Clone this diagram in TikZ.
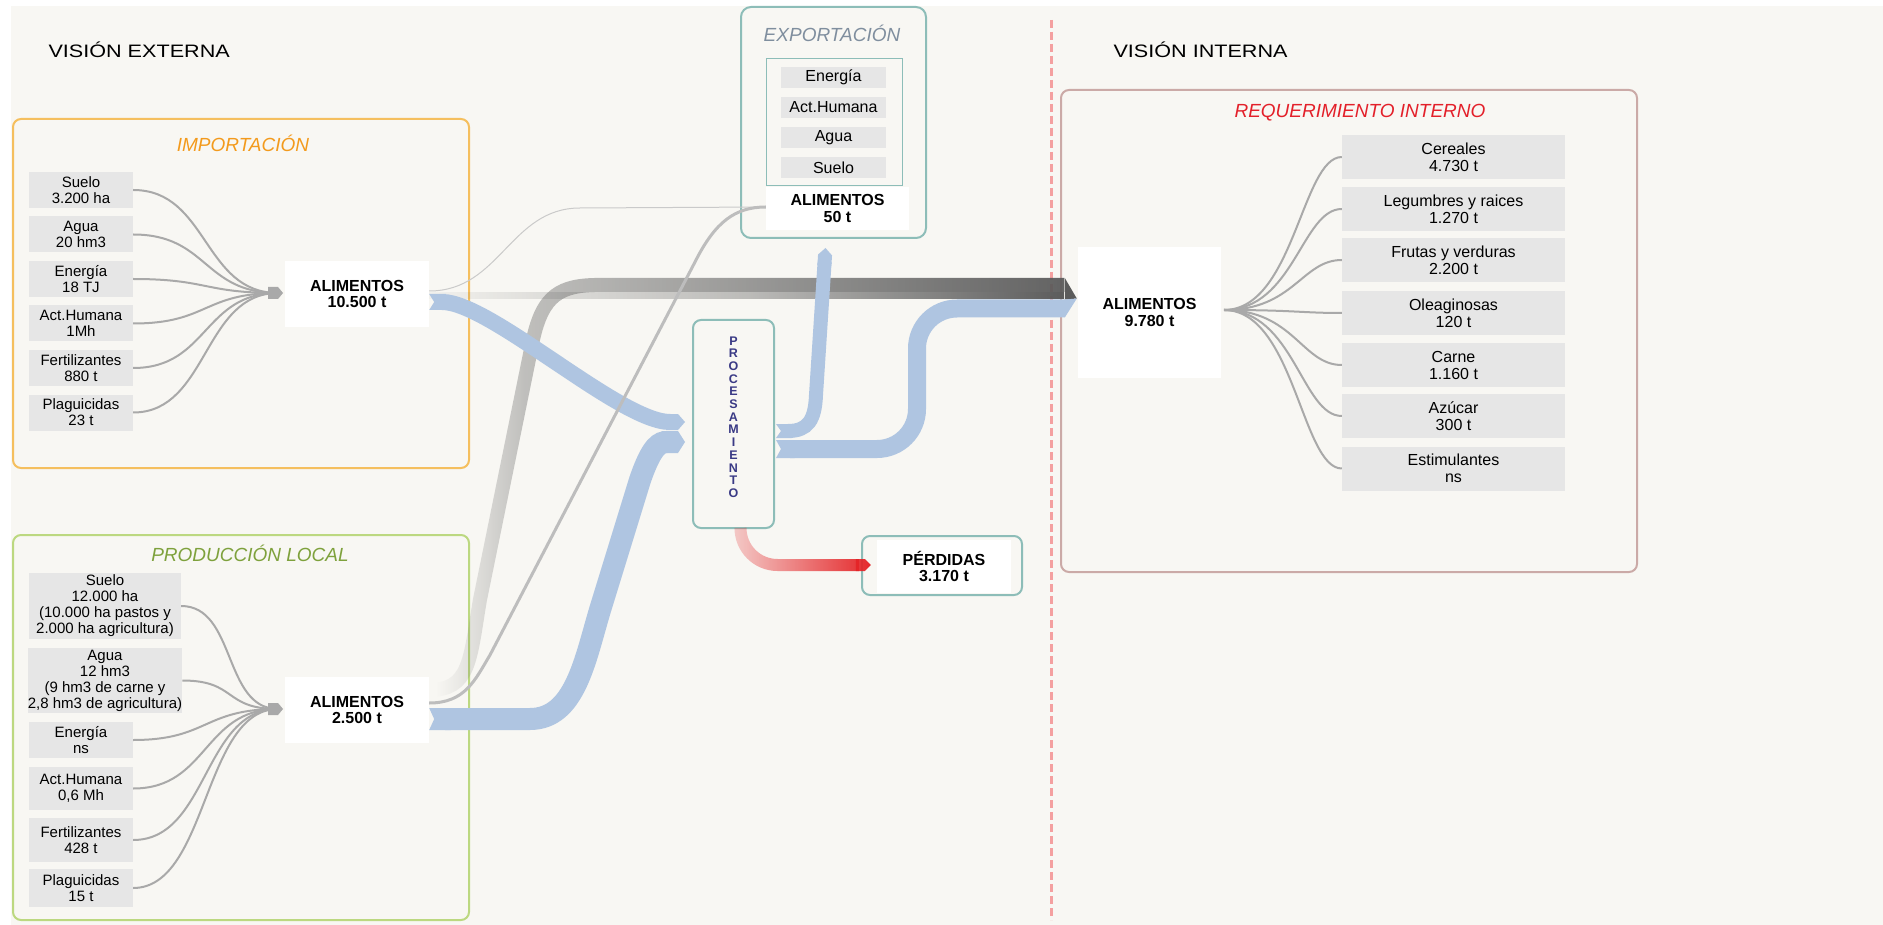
\documentclass[tikz,border=0pt]{standalone}
\usepackage{fontspec}
\setmainfont{Liberation Sans}
\newfontfamily\headfont[FakeStretch=1.2]{Liberation Sans}
\usetikzlibrary{arrows.meta}
\usetikzlibrary{calc}
\usetikzlibrary{fadings}

\definecolor{fondo}{HTML}{F8F7F3}
\definecolor{grisitem}{HTML}{E6E6E6}
\definecolor{naranja}{HTML}{F5BF5E}
\definecolor{naranjaT}{HTML}{F39A1C}
\definecolor{verde}{HTML}{BCD880}
\definecolor{verdeT}{HTML}{7EA13C}
\definecolor{turquesa}{HTML}{8DBDB8}
\definecolor{pizarra}{HTML}{7F8E9E}
\definecolor{rosado}{HTML}{CBAAA7}
\definecolor{rojoT}{HTML}{E3202A}
\definecolor{rojoclaro}{HTML}{F4A0A0}
\definecolor{azul}{HTML}{AFC5E1}
\definecolor{azulproc}{HTML}{3A3A85}
\definecolor{grisfeed}{HTML}{A9A9A9}
\definecolor{grisoscuro}{HTML}{5B5B5B}
\definecolor{grismedio}{HTML}{BDBDBD}
\definecolor{grisclaro}{HTML}{CACACA}
\definecolor{rojo}{HTML}{E42326}

% degradado: casi invisible abajo, sube en el tramo vertical, luego hasta opaco
\begin{tikzfadingfrompicture}[name=fadebanda]
    \fill[transparent!100] (-1,-1) rectangle (-0.84,1);
    \shade[left color=transparent!100, right color=transparent!64] (-0.84,-1) rectangle (-0.6,1);
    \shade[left color=transparent!64, right color=transparent!0] (-0.6,-1) rectangle (1,1);
\end{tikzfadingfrompicture}
\tikzfading[name=fadefino, left color=transparent!97, right color=transparent!0, middle color=transparent!62]
\tikzfading[name=faderojo, left color=transparent!78, right color=transparent!0]

\begin{document}
\begin{tikzpicture}[
        x=1pt, y=-1pt,
        heading/.style={font=\fontsize{18}{20}\headfont, anchor=west},
        title/.style={font=\fontsize{19}{21}\selectfont\itshape},
        item/.style={fill=grisitem, align=center, inner sep=0pt, minimum width=104, minimum height=36, font=\fontsize{15}{16}\selectfont},
        itemr/.style={item, font=\fontsize{16}{17}\selectfont},
        food/.style={fill=white, align=center, inner sep=0pt, font=\fontsize{16}{16.5}\selectfont\bfseries},
        marco/.style={draw=#1, rounded corners=8pt, line width=2pt, inner sep=0pt},
        feed/.style={draw=grisfeed, line width=2pt},
        flow/.style={line width=#1, color=azul}
    ]
        % --- Fondo ---
        \useasboundingbox (0,0) rectangle (1883,925);
        \fill[fondo] (11,6) rectangle (1883,925);

        % --- Encabezados ---
        \node[heading] (vext) at (45,50) {VISIÓN EXTERNA};
        \node[heading] (vint) at (1110,50) {VISIÓN INTERNA};
        \draw[rojoclaro, line width=3pt, dash pattern=on 8pt off 4pt] (1051,20) -- (1051,920); % frontera

        % --- Importación ---
        \node[marco=naranja, minimum width=456, minimum height=349] (imp) at (241,293.5) {};
        \node[title, text=naranjaT] (impt) at (243,143) {IMPORTACIÓN};
        \node[item] (i1) at (81,190) {Suelo\\3.200 ha};
        \node[item] (i2) at (81,234.5) {Agua\\20 hm3};
        \node[item] (i3) at (81,279) {Energía\\18 TJ};
        \node[item] (i4) at (81,323.5) {Act.Humana\\1Mh};
        \node[item] (i5) at (81,368) {Fertilizantes\\880 t};
        \node[item] (i6) at (81,412.5) {Plaguicidas\\23 t};
        \node[food, minimum width=144, minimum height=66] (ali1) at (357,294) {ALIMENTOS\\10.500 t};
        \coordinate (cimp) at (278,293);

        % --- Producción local ---
        \node[marco=verde, minimum width=456, minimum height=385] (prod) at (241,727.5) {};
        \node[title, text=verdeT] (prodt) at (250,553) {PRODUCCIÓN LOCAL};
        \node[item, minimum width=152, minimum height=66] (p1) at (105,606) {Suelo\\12.000 ha\\(10.000 ha pastos y\\2.000 ha agricultura)};
        \node[item, minimum width=152, minimum height=65] (p2) at (105,680.5) {Agua\\12 hm3\\(9 hm3 de carne y\\2,8 hm3 de agricultura)};
        \node[item] (p3) at (81,740) {Energía\\ns};
        \node[item, minimum height=43] (p4) at (81,788.5) {Act.Humana\\0,6 Mh};
        \node[item, minimum height=44] (p5) at (81,840) {Fertilizantes\\428 t};
        \node[item, minimum height=38] (p6) at (81,888) {Plaguicidas\\15 t};
        \node[food, minimum width=144, minimum height=66] (ali2) at (357,710) {ALIMENTOS\\2.500 t};
        \coordinate (cprod) at (278,709);

        % --- Exportación ---
        \node[marco=turquesa, rounded corners=10pt, minimum width=185, minimum height=231] (exp) at (833.5,122.5) {};
        \node[title, text=pizarra] (expt) at (832,33) {EXPORTACIÓN};
        \node[draw=turquesa, line width=1pt, minimum width=136, minimum height=127] (expin) at (834,122.5) {};
        \node[itemr, minimum width=105, minimum height=21] (e1) at (833.5,77.5) {Energía};
        \node[itemr, minimum width=105, minimum height=21] (e2) at (833.5,107.5) {Act.Humana};
        \node[itemr, minimum width=105, minimum height=21] (e3) at (833.5,137.5) {Agua};
        \node[itemr, minimum width=105, minimum height=21] (e4) at (833.5,167.5) {Suelo};
        \node[food, minimum width=143, minimum height=43] (e0) at (837.5,208.5) {ALIMENTOS\\50 t};

        % --- Procesamiento y pérdidas ---
        \node[marco=turquesa, fill=fondo, minimum width=81, minimum height=208] (proc) at (733.5,424) {};
        \node[font=\fontsize{12.5}{12.7}\selectfont\bfseries, text=azulproc, align=center] (proct) at ($(proc)+(0,-7)$) {P\\R\\O\\C\\E\\S\\A\\M\\I\\E\\N\\T\\O};
        \node[marco=turquesa, minimum width=160, minimum height=59] (loss) at (942,565.5) {};
        \node[food, minimum width=134, minimum height=53] (lossw) at (944,566.5) {PÉRDIDAS\\3.170 t};

        % --- Requerimiento interno ---
        \node[marco=rosado, minimum width=576, minimum height=482] (req) at (1349,331) {};
        \node[title, text=rojoT] (reqt) at (1360,113) {REQUERIMIENTO INTERNO};
        \node[food, minimum width=143, minimum height=131] (ali3) at (1149.5,312.5) {ALIMENTOS\\9.780 t};
        \node[itemr, minimum width=223, minimum height=44] (r1) at (1453.5,157) {Cereales\\4.730 t};
        \node[itemr, minimum width=223, minimum height=44] (r2) at (1453.5,209) {Legumbres y raices\\1.270 t};
        \node[itemr, minimum width=223, minimum height=44] (r3) at (1453.5,260) {Frutas y verduras\\2.200 t};
        \node[itemr, minimum width=223, minimum height=44] (r4) at (1453.5,313) {Oleaginosas\\120 t};
        \node[itemr, minimum width=223, minimum height=44] (r5) at (1453.5,365) {Carne\\1.160 t};
        \node[itemr, minimum width=223, minimum height=44] (r6) at (1453.5,416) {Azúcar\\300 t};
        \node[itemr, minimum width=223, minimum height=44] (r7) at (1453.5,468.5) {Estimulantes\\ns};
        \coordinate (creq) at (1224,310);
        \coordinate (tip) at ($(ali3.west)+(-1,-14)$); % punta comun

        % --- Entradas (lineas grises) ---
        \draw[feed] (i1.east) .. controls +(75,0) and +(-75,0) .. (cimp);
        \draw[feed] (i2.east) .. controls +(75,0) and +(-75,0) .. (cimp);
        \draw[feed] (i3.east) .. controls +(75,0) and +(-75,0) .. (cimp);
        \draw[feed] (i4.east) .. controls +(75,0) and +(-75,0) .. (cimp);
        \draw[feed] (i5.east) .. controls +(75,0) and +(-75,0) .. (cimp);
        \draw[feed] (i6.east) .. controls +(75,0) and +(-75,0) .. (cimp);
        \fill[grisfeed] (cimp) ++(-10,-6) -- ++(10,0) -- ++(5,6) -- ++(-5,6) -- ++(-10,0) -- cycle;

        \draw[feed] (p1.east) .. controls +(55,0) and +(-55,0) .. (cprod);
        \draw[feed] (p2.east) .. controls +(55,0) and +(-55,0) .. (cprod);
        \draw[feed] (p3.east) .. controls +(75,0) and +(-75,0) .. (cprod);
        \draw[feed] (p4.east) .. controls +(75,0) and +(-75,0) .. (cprod);
        \draw[feed] (p5.east) .. controls +(75,0) and +(-75,0) .. (cprod);
        \draw[feed] (p6.east) .. controls +(75,0) and +(-75,0) .. (cprod);
        \fill[grisfeed] (cprod) ++(-10,-6) -- ++(10,0) -- ++(5,6) -- ++(-5,6) -- ++(-10,0) -- cycle;

        \draw[feed] (creq) .. controls +(70,0) and +(-40,0) .. (r1.west);
        \draw[feed] (creq) .. controls +(70,0) and +(-40,0) .. (r2.west);
        \draw[feed] (creq) .. controls +(70,0) and +(-40,0) .. (r3.west);
        \draw[feed] (creq) .. controls +(70,0) and +(-40,0) .. (r4.west);
        \draw[feed] (creq) .. controls +(70,0) and +(-40,0) .. (r5.west);
        \draw[feed] (creq) .. controls +(70,0) and +(-40,0) .. (r6.west);
        \draw[feed] (creq) .. controls +(70,0) and +(-40,0) .. (r7.west);

        % --- Flujos directos (gris) ---
        \draw[line width=7pt, color=grisoscuro, path fading=fadefino] ($(ali1.east)+(0,2)$) -- ($(tip)+(-12,-2.5)$);
        \draw[line width=14pt, color=grisoscuro, path fading=fadebanda] ($(ali2.east)+(0,-20)$) .. controls +(41,0) and (470,660) .. (480,600) -- (533,340) .. controls (543,295) and (560,285) .. (600,285) -- ($(tip)+(-12,-13.5)$);

        % --- Flujos por procesamiento (azul) ---
        \draw[flow=16pt, {Triangle Cap[reversed,length=5pt]}-{Triangle Cap[length=7pt]}] ($(ali1.east)+(0,8)$) .. controls +(61,0) and (620,422) .. ($(proc.west)+(-7,-2)$);
        \draw[flow=22pt, {Triangle Cap[reversed,length=5pt]}-{Triangle Cap[length=7pt]}] ($(ali2.east)+(0,9)$) -- (530,719) .. controls (575,719) and (585,660) .. (600,610) -- (640,480) .. controls (652,445) and (660,442) .. ($(proc.west)+(-7,18)$);
        \draw[flow=14pt, {Triangle Cap[reversed,length=5pt]}-{Triangle Cap[length=7pt]}] ($(proc.east)+(1,7)$) .. controls (808,431) and (815,420) .. (816,395) -- ($(exp.south)+(-8,9)$);
        \draw[flow=18pt, {Triangle Cap[reversed,length=5pt]}-, rounded corners=40pt] ($(proc.east)+(1,25)$) -- (917,449) -- (917,308.5) -- ($(tip)+(-12,10)$);
        \fill[grisoscuro] (tip) -- ++(-12,-20.5) -- ++(0,21.5) -- cycle;
        \fill[azul] (tip) -- ++(-12,1) -- ++(0,18) -- cycle;

        % --- Pérdidas ---
        \draw[line width=12pt, color=rojo, path fading=faderojo, -{Triangle Cap[length=6pt]}, rounded corners=37pt] ($(proc.south)+(7,0)$) -- (740.5,565) -- ($(lossw.west)+(-6,-1.5)$);

        % --- Exportación (lineas) ---
        \draw[grisclaro, line width=1pt] ($(ali1.east)+(0,-3)$) .. controls +(71,0) and (510,208) .. (580,208) -- ($(e0.west)+(0,-1.5)$);
        \draw[grismedio, line width=3pt] ($(ali2.east)+(0,-7)$) .. controls +(36,0) and (475,680) .. (490,655) -- (695,262) .. controls (715,222) and (735,207) .. ($(e0.west)+(0,-1.5)$);

    \end{tikzpicture}
\end{document}
